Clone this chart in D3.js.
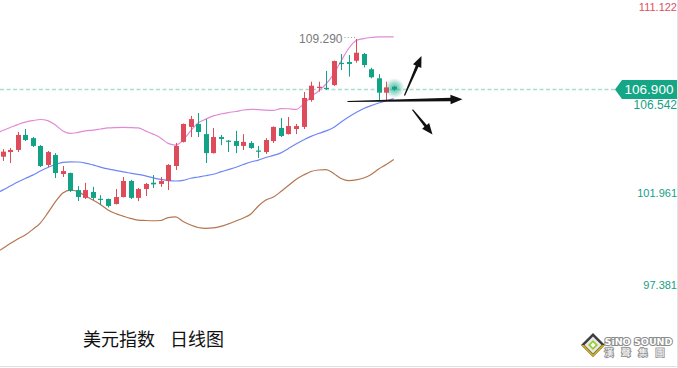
<!DOCTYPE html>
<html><head><meta charset="utf-8">
<script src="https://cdn.jsdelivr.net/npm/d3@7"></script>
<style>html,body{margin:0;padding:0;background:#fff;overflow:hidden}svg{display:block}</style>
</head><body>
<svg id="c" width="678" height="368"></svg>
<script>
// ---- data (USD index, daily) ----
const idx = d3.range(-1, 53);
const open  = [103.90,103.72,103.94,104.04,104.75,104.60,104.23,103.33,103.80,102.90,102.95,102.14,101.77,102.05,101.73,101.72,101.48,101.81,102.57,101.77,102.19,102.49,102.43,102.57,103.28,104.42,105.13,105.27,104.79,103.89,104.65,104.48,104.46,104.23,104.37,104.01,103.94,104.46,105.08,104.79,105.03,105.13,106.40,106.98,106.98,107.11,108.16,108.20,108.26,108.58,107.86,107.43,106.75,107.03];
const close = [103.60,103.96,104.04,104.75,104.51,104.23,103.28,103.94,102.95,103.04,102.10,101.81,102.14,101.77,101.69,101.39,101.81,102.57,101.77,102.19,102.43,102.41,102.57,103.33,104.23,105.27,105.50,104.89,103.89,104.65,104.56,104.44,104.23,104.42,104.13,103.97,104.51,105.13,104.70,105.17,105.17,106.50,107.08,107.03,106.94,108.25,108.12,108.11,108.64,108.06,107.48,106.75,107.00,106.90];
const high  = [104.00,104.08,104.13,104.89,105.03,104.65,104.27,103.99,103.89,103.28,102.97,102.33,102.48,102.29,101.90,101.74,102.19,102.76,102.62,102.24,102.48,102.85,102.76,103.37,104.37,105.29,105.65,105.79,105.50,105.08,104.75,104.51,104.94,104.79,104.46,104.23,104.60,105.15,105.55,105.60,105.27,106.78,107.27,107.27,107.78,108.27,108.58,108.53,109.29,108.63,107.93,107.63,107.27,107.07];
const low   = [103.50,103.52,103.42,103.94,104.46,104.18,103.23,103.23,102.71,102.76,102.05,101.62,101.72,101.67,101.43,101.32,101.46,101.79,101.72,101.62,101.86,102.24,102.29,102.14,103.09,104.39,104.65,104.65,103.42,103.87,104.27,103.94,103.89,104.04,104.09,103.66,103.85,104.37,104.65,104.77,104.79,105.03,106.32,106.80,106.88,107.07,107.82,107.51,108.17,107.95,107.43,106.40,106.40,106.84];
// Bollinger bands
const bollUpper = [104.79,104.96,105.10,105.24,105.36,105.43,105.48,105.43,105.22,104.94,104.82,104.87,104.94,104.98,105.03,105.08,105.10,105.11,105.10,105.08,104.94,104.79,104.61,104.35,104.27,104.51,104.94,105.32,105.50,105.65,105.74,105.81,105.86,105.93,105.96,105.95,105.92,105.91,106.00,105.99,105.96,106.21,106.55,106.83,107.16,107.63,108.25,108.84,109.22,109.31,109.36,109.39,109.39,109.39];
const bollMid   = [101.98,102.14,102.33,102.52,102.69,102.85,103.04,103.21,103.35,103.45,103.48,103.47,103.42,103.33,103.23,103.14,103.07,103.00,102.94,102.88,102.81,102.72,102.65,102.59,102.57,102.60,102.70,102.76,102.82,102.89,103.00,103.11,103.22,103.35,103.47,103.56,103.68,103.78,103.90,104.11,104.32,104.51,104.68,104.82,104.94,105.10,105.36,105.60,105.81,106.00,106.14,106.26,106.37,106.47];
const bollLower = [99.16,99.38,99.61,99.83,100.01,100.28,100.58,101.06,101.58,102.00,102.14,102.07,101.86,101.67,101.46,101.20,101.03,100.91,100.80,100.72,100.70,100.69,100.70,100.84,100.87,100.65,100.49,100.37,100.33,100.35,100.42,100.54,100.68,100.82,101.01,101.39,101.67,101.81,102.07,102.36,102.64,102.85,103.02,103.09,103.11,102.93,102.69,102.59,102.62,102.71,102.88,103.14,103.35,103.59];
const axisTicks = [111.122, 106.542, 101.961, 97.381];
const lastPrice = 106.900;
const highLabel = "109.290";
const titleParts = ["美元指数", "日线图"];

// ---- layout ----
const W = 678, H = 368;
const svg = d3.select("#c");
const x = d3.scaleLinear().domain([-1, 52]).range([-4.82, 393.74]);
const y = d3.scaleLinear().domain([97, 111.136]).range([298.7, 0]);
const yAxis = d3.scaleLinear().domain([97.381, 111.122]).range([285.5, 7]);
const UP = "#de4c5b", DOWN = "#12a386";
const candles = idx.map((d, i) => ({i: d, o: open[i], c: close[i], h: high[i], l: low[i]}));

// last-price dotted line
svg.append("line").attr("x1", 0).attr("x2", 616).attr("y1", y(lastPrice)).attr("y2", y(lastPrice))
  .attr("stroke", "#a9ddd0").attr("stroke-width", 1.6).attr("stroke-dasharray", "4,2.5");

// bands
const bandLine = arr => d3.line().x((d, i) => x(idx[i])).y(d => y(d)).curve(d3.curveMonotoneX)(arr);
svg.append("path").attr("d", bandLine(bollUpper)).attr("fill", "none").attr("stroke", "#e08bd6").attr("stroke-width", 1.2);
svg.append("path").attr("d", bandLine(bollMid)).attr("fill", "none").attr("stroke", "#6f86f5").attr("stroke-width", 1.2);
svg.append("path").attr("d", bandLine(bollLower)).attr("fill", "none").attr("stroke", "#b5764f").attr("stroke-width", 1.2);

// candles
const g = svg.append("g");
const bw = 5;
candles.forEach((d, k) => {
  if (k === candles.length - 1) return;
  const col = d.c >= d.o ? UP : DOWN;
  const cx = Math.round(x(d.i)) + 0.5;
  g.append("line").attr("x1", cx).attr("x2", cx).attr("y1", y(d.h)).attr("y2", y(d.l)).attr("stroke", col).attr("stroke-width", 1);
  const top = y(Math.max(d.o, d.c)), bot = y(Math.min(d.o, d.c));
  g.append("rect").attr("x", cx - bw / 2).attr("y", top).attr("width", bw).attr("height", Math.max(1.2, bot - top)).attr("fill", col);
});

// glow on last candle
const defs = svg.append("defs");
const rg = defs.append("radialGradient").attr("id", "glow");
rg.append("stop").attr("offset", "0%").attr("stop-color", "#19a88a").attr("stop-opacity", 0.75);
rg.append("stop").attr("offset", "45%").attr("stop-color", "#19a88a").attr("stop-opacity", 0.45);
rg.append("stop").attr("offset", "100%").attr("stop-color", "#19a88a").attr("stop-opacity", 0);
const lc = candles[candles.length - 1];
const lcx = Math.round(x(lc.i)) + 0.5;
svg.append("circle").attr("cx", lcx).attr("cy", y((lc.o + lc.c) / 2)).attr("r", 10).attr("fill", "url(#glow)");
svg.append("line").attr("x1", lcx).attr("x2", lcx).attr("y1", y(lc.h)).attr("y2", y(lc.l)).attr("stroke", DOWN);
svg.append("rect").attr("x", lcx - bw / 2).attr("y", y(lc.o)).attr("width", bw).attr("height", y(lc.c) - y(lc.o)).attr("fill", DOWN);

// high annotation
const hiIdx = high.indexOf(d3.max(high));
const hx = Math.round(x(idx[hiIdx])) + 0.5, hy = y(high[hiIdx]);
svg.append("text").attr("x", hx - 14).attr("y", hy).attr("dy", "0.36em").attr("text-anchor", "end")
  .attr("font-family", "Liberation Sans, Arial, sans-serif").attr("font-size", 12).attr("fill", "#7a7a7a").text(highLabel);
svg.append("line").attr("x1", hx - 12).attr("x2", hx).attr("y1", hy - 1.5).attr("y2", hy - 1.5)
  .attr("stroke", "#999").attr("stroke-width", 1).attr("stroke-dasharray", "1,2.2");

// arrows (annotation, relative to last candle)
const ax0 = lcx, ay0 = y(lastPrice);
function arrow(x1, y1, x2, y2, w1, w2, hl, hw) {
  const dx = x2 - x1, dy = y2 - y1, L = Math.hypot(dx, dy), ux = dx / L, uy = dy / L, nx = -uy, ny = ux;
  const bx = x2 - ux * hl, by = y2 - uy * hl;
  const pts = [[x1 + nx * w1 / 2, y1 + ny * w1 / 2], [bx + nx * w2 / 2, by + ny * w2 / 2], [bx + nx * hw, by + ny * hw], [x2, y2],
    [bx - nx * hw, by - ny * hw], [bx - nx * w2 / 2, by - ny * w2 / 2], [x1 - nx * w1 / 2, y1 - ny * w1 / 2]];
  svg.append("path").attr("d", "M" + pts.map(p => p.join(",")).join("L") + "Z").attr("fill", "#111");
}
arrow(ax0 - 47, ay0 + 12, ax0 + 68, ay0 + 9.8, 1.2, 3.4, 12, 4.8);
arrow(ax0 + 10, ay0 + 6, ax0 + 27, ay0 - 33.5, 1.2, 3, 11, 4.5);
arrow(ax0 + 18, ay0 + 20, ax0 + 38, ay0 + 45, 1.2, 3, 11, 4.5);

// price tag
const ty = y(lastPrice);
svg.append("path").attr("d", `M615,${ty}L622,${ty - 9.5}L678,${ty - 9.5}L678,${ty + 9.5}L622,${ty + 9.5}Z`).attr("fill", "#15a686");
svg.append("text").attr("x", 649).attr("y", ty).attr("dy", "0.36em").attr("text-anchor", "middle")
  .attr("font-family", "Liberation Sans, Arial, sans-serif").attr("font-size", 13.5).attr("fill", "#fff").text(lastPrice.toFixed(3));

// right axis labels
axisTicks.forEach((v, i) => {
  let yy = yAxis(v);
  let fs = 11, xr = 677;
  if (Math.abs(yy - ty) < 14) { yy = ty + 15; fs = 12; xr = 677; }
  svg.append("text").attr("x", xr).attr("y", yy).attr("dy", "0.36em").attr("text-anchor", "end")
    .attr("font-family", "Liberation Sans, Arial, sans-serif").attr("font-size", fs)
    .attr("fill", i === 0 ? "#e0505c" : "#16a085").text(v.toFixed(3));
});

// title
svg.append("text").attr("x", 83).attr("y", 340).attr("dy", "0.36em")
  .attr("font-family", "Noto Sans CJK SC, sans-serif").attr("font-size", 18).attr("fill", "#111").text(titleParts[0]);
svg.append("text").attr("x", 170).attr("y", 340).attr("dy", "0.36em")
  .attr("font-family", "Noto Sans CJK SC, sans-serif").attr("font-size", 18).attr("fill", "#111").text(titleParts[1]);

// logo
const lg = svg.append("g").attr("transform", "translate(593,345)");
lg.append("path").attr("d", "M0,-12L12,0L0,12L-12,0Z").attr("fill", "#3d3d3d");
lg.append("path").attr("d", "M-12,0L0,12L12,0L9,0L0,9L-9,0Z").attr("fill", "#c9a826");
lg.append("path").attr("d", "M0,-8.5L8.5,0L0,8.5L-8.5,0Z").attr("fill", "#e8e8e8");
lg.append("path").attr("d", "M0,-5L5,0L0,5L-5,0Z").attr("fill", "#9acd32");
lg.append("path").attr("d", "M0,-2.5L2.5,0L0,2.5L-2.5,0Z").attr("fill", "#fff");
svg.append("text").attr("x", 638.5).attr("y", 342).attr("dy", "0.36em").attr("text-anchor", "middle")
  .attr("font-family", "DejaVu Sans, sans-serif").attr("font-weight", "bold").attr("font-size", 9.5)
  .attr("fill", "#fff").attr("stroke", "#8a8a8a").attr("stroke-width", 2).attr("paint-order", "stroke").text("SiNO SOUND");
svg.append("text").attr("x", 638.5).attr("y", 353).attr("dy", "0.36em").attr("text-anchor", "middle")
  .attr("font-family", "Noto Sans CJK TC, sans-serif").attr("font-size", 9).attr("letter-spacing", 8)
  .attr("fill", "#fff").attr("stroke", "#9a9a9a").attr("stroke-width", 2).attr("paint-order", "stroke").text("漢聲集團");

// frame edges
svg.append("line").attr("x1", 677.5).attr("x2", 677.5).attr("y1", 0).attr("y2", H).attr("stroke", "#e2e2e2");
svg.append("line").attr("x1", 0).attr("x2", W).attr("y1", 366.5).attr("y2", 366.5).attr("stroke", "#e2e2e2");
</script>
</body></html>
